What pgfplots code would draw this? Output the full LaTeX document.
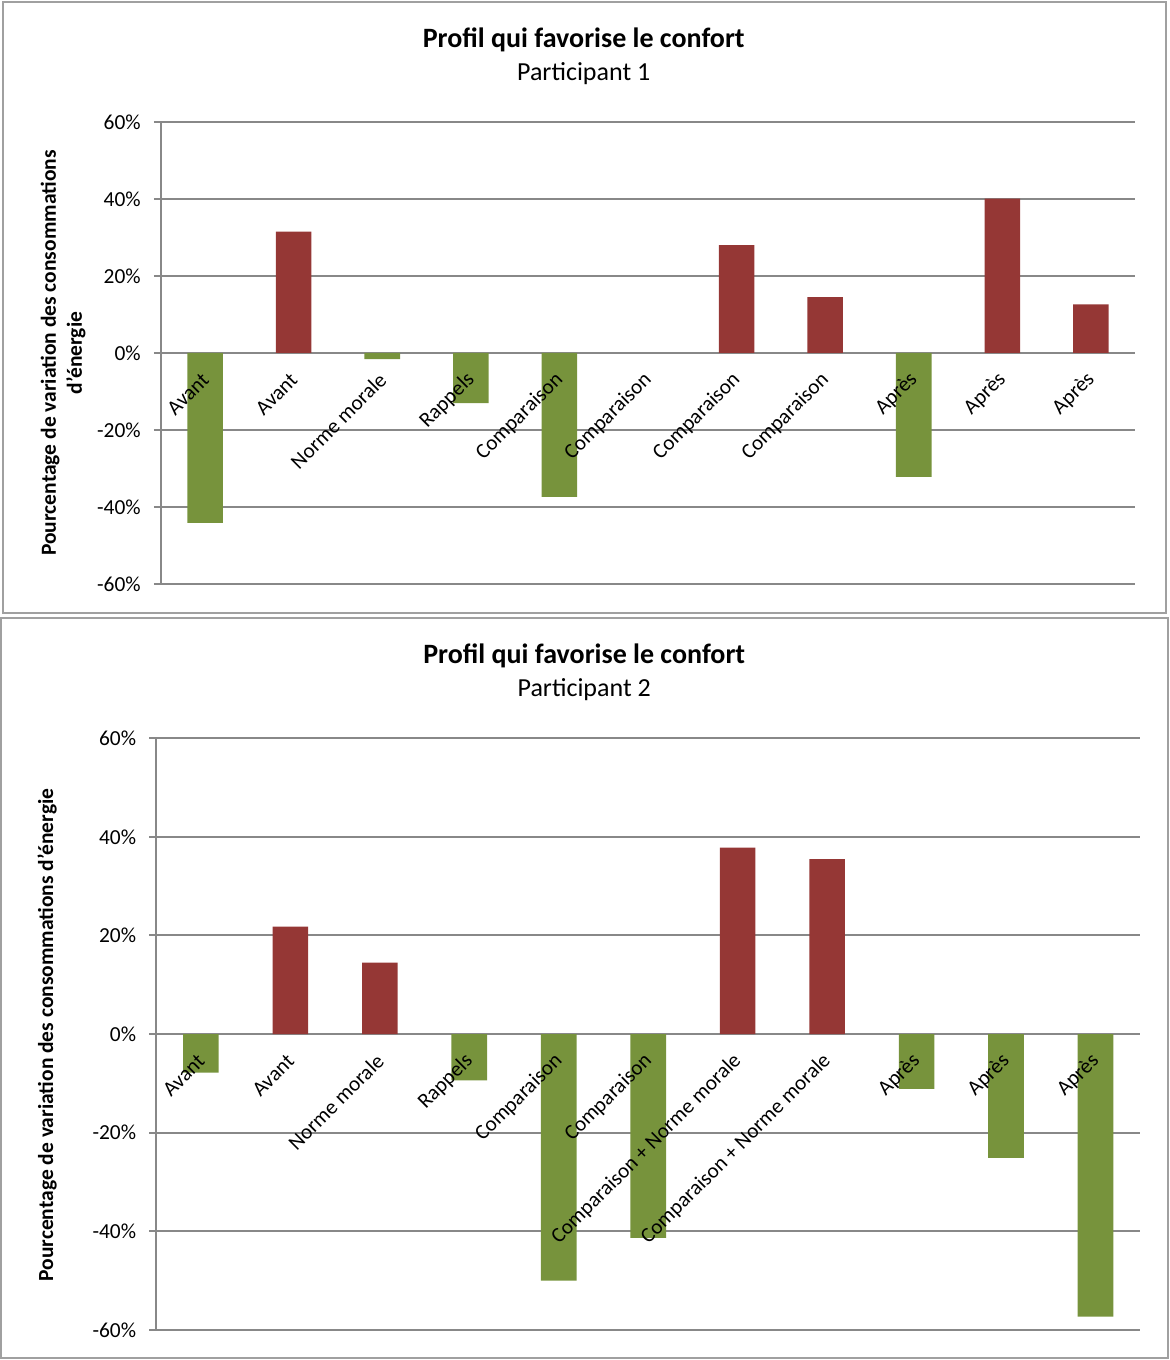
\documentclass[border=0pt]{standalone}
\usepackage{fontspec}
\setmainfont{Carlito}
\usepackage{pgfplots}
\pgfplotsset{compat=1.18}
\definecolor{barred}{HTML}{953735}
\definecolor{bargreen}{HTML}{77933C}
\definecolor{gridgray}{HTML}{888888}
\definecolor{framegray}{HTML}{A0A0A0}
\pgfplotsset{
  chart/.style={
    scale only axis,
    xmin=-0.5, xmax=10.5, ymin=-60, ymax=60,
    axis x line=middle, axis y line=left,
    hide obscured x ticks=false, hide obscured y ticks=false,
    axis line style={gridgray, line width=1pt, -},
    ytick={-60,-40,-20,0,20,40,60},
    yticklabels={-60\%,-40\%,-20\%,0\%,20\%,40\%,60\%},
    ymajorgrids, grid style={gridgray, line width=1pt},
    xtick=\empty,
    y tick style={gridgray, line width=1pt},
    tick align=outside, major tick length=3.5pt,
    yticklabel style={font=\fontsize{10.7}{12}\selectfont, xshift=-3pt},
    clip=false,
  },
  labels/.style={
    scale only axis,
    xmin=-0.5, xmax=10.5, ymin=-60, ymax=60,
    axis x line=middle, axis y line=none,
    hide obscured x ticks=false,
    axis line style={draw=none},
    xtick={0,1,...,10}, ytick=\empty,
    x tick style={draw=none},
    tick align=outside, major tick length=3.5pt,
    xticklabel style={font=\fontsize{10.6}{12}\selectfont, yshift=-7.5pt, xshift=1pt, rotate=45, anchor=east, inner sep=1pt},
    clip=false,
  },
  posbar/.style={ybar, bar width=17.8pt, bar shift=0pt, fill=barred, draw=none},
  negbar/.style={ybar, bar width=17.8pt, bar shift=0pt, fill=bargreen, draw=none},
}
\begin{document}
\begin{tikzpicture}
\path (0pt,0pt) rectangle (584.5pt,-680pt);
\draw[framegray, line width=0.8pt] (1.5pt,-1pt) rectangle (583pt,-306.5pt);
\draw[framegray, line width=0.8pt] (0.3pt,-309pt) rectangle (584pt,-679pt);

% ---------- Chart 1 ----------
\node[font=\bfseries\fontsize{14}{16}\selectfont] at (291.75pt,-20pt) {Profil qui favorise le confort};
\node[font=\fontsize{13}{15}\selectfont] at (291.75pt,-37pt) {Participant 1};
\node[rotate=90, align=center, font=\bfseries\fontsize{10.75}{13}\selectfont] at (31.5pt,-176.5pt) {Pourcentage de variation des consommations\\d'énergie};
\begin{axis}[chart,
  at={(80.3pt,-292pt)}, anchor=south west,
  width=487.2pt, height=231pt,
]
\addplot[posbar] coordinates {(1,31.5) (6,28.0) (7,14.5) (9,40.1) (10,12.6)};
\addplot[negbar] coordinates {(0,-44.1) (2,-1.6) (3,-13.0) (4,-37.4) (8,-32.2)};
\end{axis}
\begin{axis}[labels,
  at={(80.3pt,-292pt)}, anchor=south west,
  width=487.2pt, height=231pt,
  xticklabels={Avant,Avant,Norme morale,Rappels,Comparaison,Comparaison,Comparaison,Comparaison,Après,Après,Après},
]
\end{axis}

% ---------- Chart 2 ----------
\node[font=\bfseries\fontsize{14}{16}\selectfont] at (292pt,-328pt) {Profil qui favorise le confort};
\node[font=\fontsize{13}{15}\selectfont] at (292pt,-345pt) {Participant 2};
\node[rotate=90, font=\bfseries\fontsize{10.75}{13}\selectfont] at (23.5pt,-517.5pt) {Pourcentage de variation des consommations d'énergie};
\begin{axis}[chart,
  at={(78pt,-665pt)}, anchor=south west,
  width=492pt, height=295.9pt,
]
\addplot[posbar] coordinates {(1,21.8) (2,14.5) (6,37.8) (7,35.5)};
\addplot[negbar] coordinates {(0,-7.8) (3,-9.4) (4,-50.0) (5,-41.3) (8,-11.1) (9,-25.1) (10,-57.3)};
\end{axis}
\begin{axis}[labels,
  at={(78pt,-665pt)}, anchor=south west,
  width=492pt, height=295.9pt,
  xticklabels={Avant,Avant,Norme morale,Rappels,Comparaison,Comparaison,Comparaison + Norme morale,Comparaison + Norme morale,Après,Après,Après},
]
\end{axis}
\end{tikzpicture}
\end{document}
